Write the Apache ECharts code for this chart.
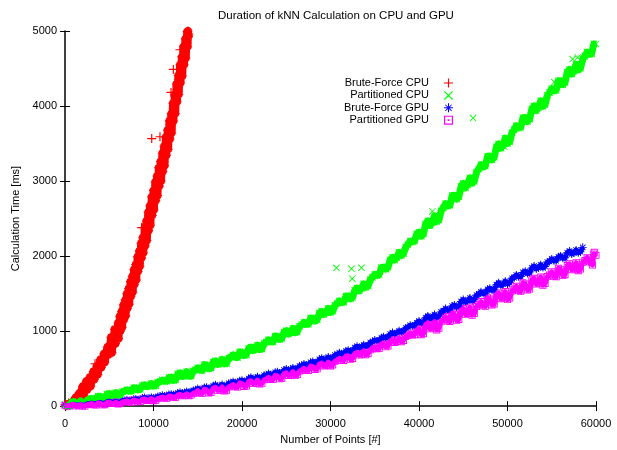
<!DOCTYPE html>
<html>
<head>
<meta charset="utf-8">
<title>kNN duration</title>
<script src="https://cdn.jsdelivr.net/npm/echarts/dist/echarts.min.js"></script>
<style>
    html, body { margin: 0; padding: 0; background: #fff; }
    #main { width: 617px; height: 450px; }
</style>
</head>
<body>
<div id="main"></div>
<script>
// 数据 - [点数, 毫秒]
var seriesNames = ['Brute-Force CPU', 'Partitioned CPU', 'Brute-Force GPU', 'Partitioned GPU'];
var xTicks = [0, 10000, 20000, 30000, 40000, 50000, 60000];
var yTicks = [0, 1000, 2000, 3000, 4000, 5000];

var bruteCpu = [
    [0,20],[100,0],[200,22],[300,17],[400,41],[500,18],[600,40],[700,36],[800,64],[900,43],
    [1000,72],[1100,65],[1200,115],[1300,72],[1400,119],[1500,115],[1600,174],[1700,134],[1800,184],[1900,177],
    [2000,263],[2100,145],[2200,237],[2300,210],[2400,330],[2500,219],[2600,318],[2700,284],[2800,383],[2900,265],
    [3000,357],[3100,335],[3200,460],[3300,354],[3400,458],[3500,429],[3600,533],[3700,420],[3800,517],[3900,495],
    [4000,620],[4100,515],[4200,620],[4300,592],[4400,697],[4500,585],[4600,683],[4700,662],[4800,788],[4900,683],
    [5000,808],[5100,748],[5200,916],[5300,712],[5400,868],[5500,820],[5600,1024],[5700,832],[5800,1000],[5900,940],
    [6000,1108],[6050,899],[6100,1050],[6150,997],[6200,1196],[6250,999],[6300,1162],[6350,1097],[6400,1260],[6450,1051],
    [6500,1202],[6550,1149],[6600,1348],[6650,1151],[6700,1314],[6750,1249],[6800,1412],[6850,1203],[6900,1354],[6950,1301],
    [7000,1500],[7050,1304],[7100,1468],[7150,1404],[7200,1568],[7250,1360],[7300,1512],[7350,1460],[7400,1660],[7450,1464],
    [7500,1628],[7550,1564],[7600,1728],[7650,1520],[7700,1672],[7750,1620],[7800,1820],[7850,1624],[7900,1788],[7950,1724],
    [8000,1888],[8050,1682],[8100,1837],[8150,1787],[8200,1990],[8250,1796],[8300,1963],[8350,1901],[8400,2068],[8450,1862],
    [8500,2017],[8550,1967],[8600,2170],[8650,1976],[8700,2143],[8750,2081],[8800,2248],[8850,2042],[8900,2197],[8950,2147],
    [9000,2380],[9050,2135],[9100,2341],[9150,2261],[9200,2467],[9250,2207],[9300,2398],[9350,2333],[9400,2584],[9450,2339],
    [9500,2545],[9550,2465],[9600,2671],[9650,2411],[9700,2602],[9750,2537],[9800,2788],[9850,2543],[9900,2749],[9950,2669],
    [10000,2875],[10050,2614],[10100,2803],[10150,2737],[10200,2986],[10250,2740],[10300,2944],[10350,2863],[10400,3067],[10450,2806],
    [10500,2995],[10550,2929],[10600,3178],[10650,2932],[10700,3136],[10750,3055],[10800,3259],[10850,2998],[10900,3187],[10950,3121],
    [11000,3370],[11050,3127],[11100,3334],[11150,3256],[11200,3463],[11250,3205],[11300,3397],[11350,3334],[11400,3586],[11450,3343],
    [11500,3550],[11550,3472],[11600,3679],[11650,3421],[11700,3613],[11750,3550],[11800,3802],[11850,3559],[11900,3766],[11950,3688],
    [12000,3895],[12050,3642],[12100,3839],[12150,3781],[12200,4038],[12250,3800],[12300,4012],[12350,3939],[12400,4151],[12450,3898],
    [12500,4095],[12550,4037],[12600,4294],[12650,4056],[12700,4268],[12750,4195],[12800,4407],[12850,4154],[12900,4351],[12950,4293],
    [13000,4550],[13050,4310],[13100,4520],[13150,4445],[13200,4655],[13250,4400],[13300,4595],[13350,4535],[13400,4790],[13450,4550],
    [13500,4760],[13550,4685],[13600,4895],[13650,4640],[13700,4835],[13750,4775],[13800,4990],[13850,4790],[13900,5000],[13950,4925],
    [14000,4960]
];
var bruteCpuOut = [[3390,565],[8660,2380],[9800,3566],[10730,3590],[11980,4181],[12240,4488],[12990,4750]];

var partCpu = [
    [0,25],[500,4],[1000,61],[1500,40],[2000,34],[2500,79],[3000,105],[3500,86],[4000,127],[4500,108],
    [5000,167],[5500,148],[6000,144],[6500,191],[7000,217],[7500,198],[8000,241],[8500,224],[9000,285],[9500,268],
    [10000,266],[10500,317],[11000,347],[11500,332],[12000,387],[12500,350],[13000,444],[13500,408],[14000,397],[14500,471],
    [15000,510],[15500,476],[16000,542],[16500,508],[17000,604],[17500,570],[18000,562],[18500,639],[19000,681],[19500,648],
    [20000,715],[20500,686],[21000,787],[21500,758],[22000,754],[22500,835],[23000,883],[23500,856],[24000,929],[24500,902],
    [25000,1005],[25500,980],[26000,980],[26500,1065],[27000,1115],[27500,1090],[28000,1171],[28500,1152],[29000,1263],[29500,1244],
    [30000,1250],[30500,1343],[31000,1401],[31500,1384],[32000,1467],[32500,1450],[33000,1573],[33500,1566],[34000,1584],[34500,1687],
    [35000,1755],[35500,1754],[36000,1853],[36500,1852],[37000,1981],[37500,1980],[38000,2008],[38500,2121],[39000,2199],[39500,2202],
    [40000,2318],[40500,2295],[41000,2468],[41500,2445],[42000,2460],[42500,2603],[43000,2697],[43500,2678],[44000,2810],[44500,2791],
    [45000,2968],[45500,2951],[46000,2972],[46500,3121],[47000,3217],[47500,3200],[48000,3334],[48500,3317],[49000,3496],[49500,3479],
    [50000,3500],[50500,3645],[51000,3737],[51500,3716],[52000,3846],[52500,3825],[53000,4000],[53500,3979],[54000,3996],[54500,4141],
    [55000,4233],[55500,4210],[56000,4338],[56500,4315],[57000,4488],[57500,4465],[58000,4482],[58500,4627],[59000,4719],[59500,4698],
    [60000,4828],
    [250,2],[750,52],[1250,31],[1750,70],[2250,37],[2750,89],[3250,88],[3750,132],[4250,101],[4750,157],
    [5250,138],[5750,179],[6250,148],[6750,201],[7250,200],[7750,245],[8250,216],[8750,274],[9250,257],[9750,300],
    [10250,272],[10750,329],[11250,332],[11750,380],[12250,341],[12750,430],[13250,394],[13750,458],[14250,402],[14750,486],
    [15250,481],[15750,552],[16250,498],[16750,589],[17250,555],[17750,621],[18250,568],[18750,655],[19250,652],[19750,724],
    [20250,673],[20750,769],[21250,740],[21750,811],[22250,762],[22750,854],[23250,857],[23750,935],[24250,888],[24750,986],
    [25250,960],[25750,1035],[26250,990],[26750,1085],[27250,1090],[27750,1173],[28250,1134],[28750,1240],[29250,1221],[29750,1302],
    [30250,1264],[30750,1367],[31250,1380],[31750,1468],[32250,1431],[32750,1544],[33250,1537],[33750,1630],[34250,1603],[34750,1716],
    [35250,1742],[35750,1846],[36250,1825],[36750,1949],[37250,1948],[37750,2049],[38250,2032],[38750,2155],[39250,2188],[39750,2296],
    [40250,2265],[40750,2430],[41250,2407],[41750,2535],[42250,2482],[42750,2642],[43250,2668],[43750,2808],[44250,2759],[44750,2928],
    [45250,2910],[45750,3044],[46250,2997],[46750,3161],[47250,3189],[47750,3331],[48250,3284],[48750,3455],[49250,3438],[49750,3572],
    [50250,3523],[50750,3683],[51250,3707],[51750,3845],[52250,3794],[52750,3961],[53250,3940],[53750,4070],[54250,4019],[54750,4179],
    [55250,4202],[55750,4338],[56250,4285],[56750,4450],[57250,4427],[57750,4556],[58250,4505],[58750,4665],[59250,4689],[59750,4827]
];
var partCpuOut = [[30670,1843],[32370,1830],[33500,1843],[32460,1699],[41510,2595],[49620,3460],[46110,3840],
    [55290,4320],[57360,4626],[57930,4647]];

var bruteGpu = [
    [0,13],[500,1],[1000,26],[1500,14],[2000,11],[2500,30],[3000,40],[3500,30],[4000,48],[4500,37],
    [5000,63],[5500,53],[6000,52],[6500,73],[7000,84],[7500,75],[8000,95],[8500,86],[9000,114],[9500,105],
    [10000,105],[10500,129],[11000,143],[11500,137],[12000,159],[12500,152],[13000,184],[13500,179],[14000,183],[14500,209],
    [15000,235],[15500,216],[16000,252],[16500,233],[17000,284],[17500,265],[18000,262],[18500,304],[19000,326],[19500,308],
    [20000,345],[20500,329],[21000,383],[21500,367],[22000,366],[22500,410],[23000,434],[23500,418],[24000,457],[24500,441],
    [25000,495],[25500,483],[26000,486],[26500,534],[27000,562],[27500,550],[28000,593],[28500,581],[29000,639],[29500,627],
    [30000,630],[30500,680],[31000,710],[31500,700],[32000,745],[32500,735],[33000,797],[33500,789],[34000,796],[34500,848],
    [35000,880],[35500,874],[36000,923],[36500,917],[37000,981],[37500,975],[38000,986],[38500,1042],[39000,1078],[39500,1074],
    [40000,1134],[40500,1112],[41000,1202],[41500,1180],[42000,1182],[42500,1256],[43000,1300],[43500,1280],[44000,1348],[44500,1328],
    [45000,1420],[45500,1400],[46000,1404],[46500,1480],[47000,1524],[47500,1504],[48000,1572],[48500,1552],[49000,1644],[49500,1624],
    [50000,1628],[50500,1704],[51000,1748],[51500,1728],[52000,1796],[52500,1776],[53000,1866],[53500,1844],[54000,1846],[54500,1920],
    [55000,1962],[55500,1938],[56000,2002],[56500,1978],[57000,2066],[57500,2042],[58000,2043],[58500,2116],
    [250,1],[750,20],[1250,12],[1750,25],[2250,14],[2750,31],[3250,31],[3750,46],[4250,37],[4750,57],
    [5250,50],[5750,65],[6250,56],[6750,74],[7250,75],[7750,92],[8250,85],[8750,107],[9250,102],[9750,118],
    [10250,111],[10750,132],[11250,136],[11750,155],[12250,150],[12750,175],[13250,174],[13750,194],[14250,190],[14750,213],
    [15250,218],[15750,247],[16250,231],[16750,272],[17250,259],[17750,288],[18250,270],[18750,306],[19250,309],[19750,339],
    [20250,325],[20750,369],[21250,359],[21750,391],[22250,375],[22750,413],[23250,418],[23750,450],[24250,437],[24750,481],
    [25250,473],[25750,509],[26250,497],[26750,539],[27250,548],[27750,584],[28250,575],[28750,623],[29250,617],[29750,653],
    [30250,642],[30750,686],[31250,697],[31750,735],[32250,728],[32750,779],[33250,777],[33750,817],[34250,809],[34750,855],
    [35250,869],[35750,911],[36250,908],[36750,962],[37250,962],[37750,1005],[38250,1001],[38750,1051],[39250,1068],[39750,1112],
    [40250,1104],[40750,1178],[41250,1165],[41750,1220],[42250,1198],[42750,1264],[43250,1277],[43750,1334],[44250,1319],[44750,1395],
    [45250,1384],[45750,1441],[46250,1421],[46750,1488],[47250,1501],[47750,1558],[48250,1543],[48750,1619],[49250,1608],[49750,1665],
    [50250,1645],[50750,1712],[51250,1725],[51750,1782],[52250,1767],[52750,1842],[53250,1829],[53750,1884],[54250,1862],[54750,1927],
    [55250,1937],[55750,1990],[56250,1971],[56750,2043],[57250,2028],[57750,2081],[58250,2058]
];

var partGpu = [
    [0,10],[500,0],[1000,24],[1500,4],[2000,0],[2500,20],[3000,34],[3500,15],[4000,37],[4500,19],
    [5000,53],[5500,35],[6000,27],[6500,55],[7000,70],[7500,52],[8000,76],[8500,60],[9000,96],[9500,79],
    [10000,72],[10500,103],[11000,121],[11500,106],[12000,132],[12500,118],[13000,157],[13500,143],[14000,139],[14500,171],
    [15000,205],[15500,170],[16000,215],[16500,180],[17000,250],[17500,215],[18000,201],[18500,257],[19000,288],[19500,254],
    [20000,300],[20500,267],[21000,339],[21500,306],[22000,293],[22500,350],[23000,384],[23500,353],[24000,402],[24500,371],
    [25000,445],[25500,416],[26000,407],[26500,468],[27000,504],[27500,475],[28000,526],[28500,497],[29000,573],[29500,544],
    [30000,535],[30500,598],[31000,636],[31500,609],[32000,662],[32500,635],[33000,715],[33500,690],[34000,685],[34500,750],
    [35000,790],[35500,767],[36000,824],[36500,801],[37000,883],[37500,860],[38000,859],[38500,928],[39000,972],[39500,951],
    [40000,1030],[40500,964],[41000,1108],[41500,1042],[42000,1016],[42500,1130],[43000,1194],[43500,1128],[44000,1222],[44500,1156],
    [45000,1300],[45500,1236],[46000,1212],[46500,1328],[47000,1394],[47500,1330],[48000,1426],[48500,1362],[49000,1508],[49500,1444],
    [50000,1420],[50500,1534],[51000,1598],[51500,1532],[52000,1626],[52500,1560],[53000,1704],[53500,1638],[54000,1612],[54500,1726],
    [55000,1790],[55500,1724],[56000,1818],[56500,1752],[57000,1896],[57500,1830],[58000,1804],[58500,1918],[59000,1982],[59500,1916],
    [60000,2010],[59800,2050],[59600,1880],
    [250,0],[750,20],[1250,3],[1750,23],[2250,0],[2750,25],[3250,19],[3750,43],[4250,17],[4750,48],
    [5250,33],[5750,55],[6250,33],[6750,61],[7250,56],[7750,81],[8250,57],[8750,90],[9250,76],[9750,99],
    [10250,79],[10750,110],[11250,108],[11750,136],[12250,114],[12750,150],[13250,139],[13750,165],[14250,147],[14750,179],
    [15250,175],[15750,225],[16250,175],[16750,240],[17250,210],[17750,256],[18250,212],[18750,268],[19250,259],[19750,310],
    [20250,261],[20750,328],[21250,300],[21750,347],[22250,304],[22750,362],[23250,356],[23750,410],[24250,364],[24750,433],
    [25250,408],[25750,459],[26250,420],[26750,481],[27250,477],[27750,533],[28250,489],[28750,560],[29250,536],[29750,587],
    [30250,549],[30750,612],[31250,610],[31750,668],[32250,626],[32750,700],[33250,680],[33750,735],[34250,700],[34750,765],
    [35250,766],[35750,828],[36250,790],[36750,867],[37250,849],[37750,907],[38250,876],[38750,945],[39250,949],[39750,1013],
    [40250,952],[40750,1086],[41250,1030],[41750,1124],[42250,1038],[42750,1152],[43250,1136],[43750,1240],[44250,1144],[44750,1278],
    [45250,1223],[45750,1319],[46250,1235],[46750,1351],[47250,1337],[47750,1443],[48250,1349],[48750,1485],[49250,1431],[49750,1527],
    [50250,1442],[50750,1556],[51250,1540],[51750,1644],[52250,1548],[52750,1682],[53250,1626],[53750,1720],[54250,1634],[54750,1748],
    [55250,1732],[55750,1836],[56250,1740],[56750,1874],[57250,1818],[57750,1912],[58250,1826],[58750,1940],[59250,1924],[59750,2028]
];

(function drawChart(){
    // gnuplot 风格的点形
    var plusPath = 'path://M0,4.35H10V5.65H0Z M4.35,0H5.65V10H4.35Z';
    var crossPath = 'path://M0,0.9L0.9,0L10,9.1L9.1,10Z M9.1,0L10,0.9L0.9,10L0,9.1Z';
    var starPath = 'path://M0,4.4H10V5.6H0Z M4.4,0H5.6V10H4.4Z M1.2,1.9L1.9,1.2L8.8,8.1L8.1,8.8Z M8.1,1.2L8.8,1.9L1.9,8.8L1.2,8.1Z';
    var boxPath = 'path://M0,0H10V10H0Z M1.3,1.3V8.7H8.7V1.3Z M4,4H6V6H4Z';

    var fontFamily = '"Liberation Sans", Arial, sans-serif';
    var myChart = echarts.init(document.getElementById('main'));

    function plainLabel(value){
        return String(value);
    }

    function byX(list){
        return list.slice().sort(function(a, b){ return a[0] - b[0]; });
    }

    // 上边和右边只画刻度
    function mirrorAxis(pos, ticks){
        return {
            type: 'value',
            position: pos,
            min: ticks[0],
            max: ticks[ticks.length - 1],
            interval: ticks[1] - ticks[0],
            axisLine: { show: false },
            axisTick: { show: true, inside: true, length: 5, lineStyle: { color: '#000', width: 1 } },
            axisLabel: { show: false },
            splitLine: { show: false }
        };
    }

    // 密集点云的底色带
    function band(data, color, width){
        return {
            type: 'line',
            data: byX(data),
            symbol: 'none',
            silent: true,
            legendHoverLink: false,
            lineStyle: { color: color, width: width, join: 'round' }
        };
    }

    function points(name, data, symbol, size, color){
        return {
            name: name,
            type: 'scatter',
            data: data,
            symbol: symbol,
            symbolSize: size,
            itemStyle: { color: color, opacity: 1, borderWidth: 0 }
        };
    }

    var option = {
        animation: false,
        backgroundColor: '#fff',
        textStyle: { fontFamily: fontFamily },
        title: {
            text: 'Duration of kNN Calculation on CPU and GPU',
            left: 213,
            top: 5,
            textStyle: { fontSize: 11.5, fontWeight: 'normal', color: '#000', fontFamily: fontFamily }
        },
        legend: {
            orient: 'vertical',
            align: 'right',
            right: 164,
            top: 77,
            padding: 0,
            itemWidth: 9,
            itemHeight: 9,
            itemGap: 0.4,
            data: seriesNames,
            textStyle: { fontSize: 11, lineHeight: 12, color: '#000', fontFamily: fontFamily, padding: [0, 10, 0, 0] }
        },
        grid: { left: 65, right: 21, top: 31, bottom: 39 },
        xAxis: [{
            type: 'value',
            min: xTicks[0],
            max: xTicks[xTicks.length - 1],
            interval: xTicks[1] - xTicks[0],
            name: 'Number of Points [#]',
            nameLocation: 'middle',
            nameGap: 27,
            nameTextStyle: { fontSize: 11, color: '#000' },
            axisLine: { show: true, lineStyle: { color: '#000', width: 1.5 } },
            axisTick: { show: true, inside: true, length: 5, lineStyle: { color: '#000', width: 1 } },
            axisLabel: { fontSize: 11, color: '#000', margin: 12, formatter: plainLabel },
            splitLine: { show: false }
        }, mirrorAxis('top', xTicks)],
        yAxis: [{
            type: 'value',
            min: yTicks[0],
            max: yTicks[yTicks.length - 1],
            interval: yTicks[1] - yTicks[0],
            name: 'Calculation Time [ms]',
            nameLocation: 'middle',
            nameGap: 30,
            nameTextStyle: { fontSize: 11, color: '#000' },
            axisLine: { show: true, lineStyle: { color: '#000', width: 1.5 } },
            axisTick: { show: true, inside: true, length: 5, lineStyle: { color: '#000', width: 1 } },
            axisLabel: { fontSize: 11, color: '#000', margin: 8, formatter: plainLabel },
            splitLine: { show: false }
        }, mirrorAxis('right', yTicks)],
        series: [
            band(bruteCpu, '#ff0000', 8),
            points(seriesNames[0], bruteCpu.concat(bruteCpuOut), plusPath, 9, '#ff0000'),
            band(partCpu, '#00ff00', 7),
            points(seriesNames[1], partCpu.concat(partCpuOut), crossPath, 7, '#00ff00'),
            band(bruteGpu, '#0000ff', 5),
            points(seriesNames[2], bruteGpu, starPath, 8, '#0000ff'),
            band(partGpu, '#ff00ff', 5),
            points(seriesNames[3], partGpu, boxPath, 7, '#ff00ff')
        ]
    };
    myChart.setOption(option);
})();
</script>
</body>
</html>
